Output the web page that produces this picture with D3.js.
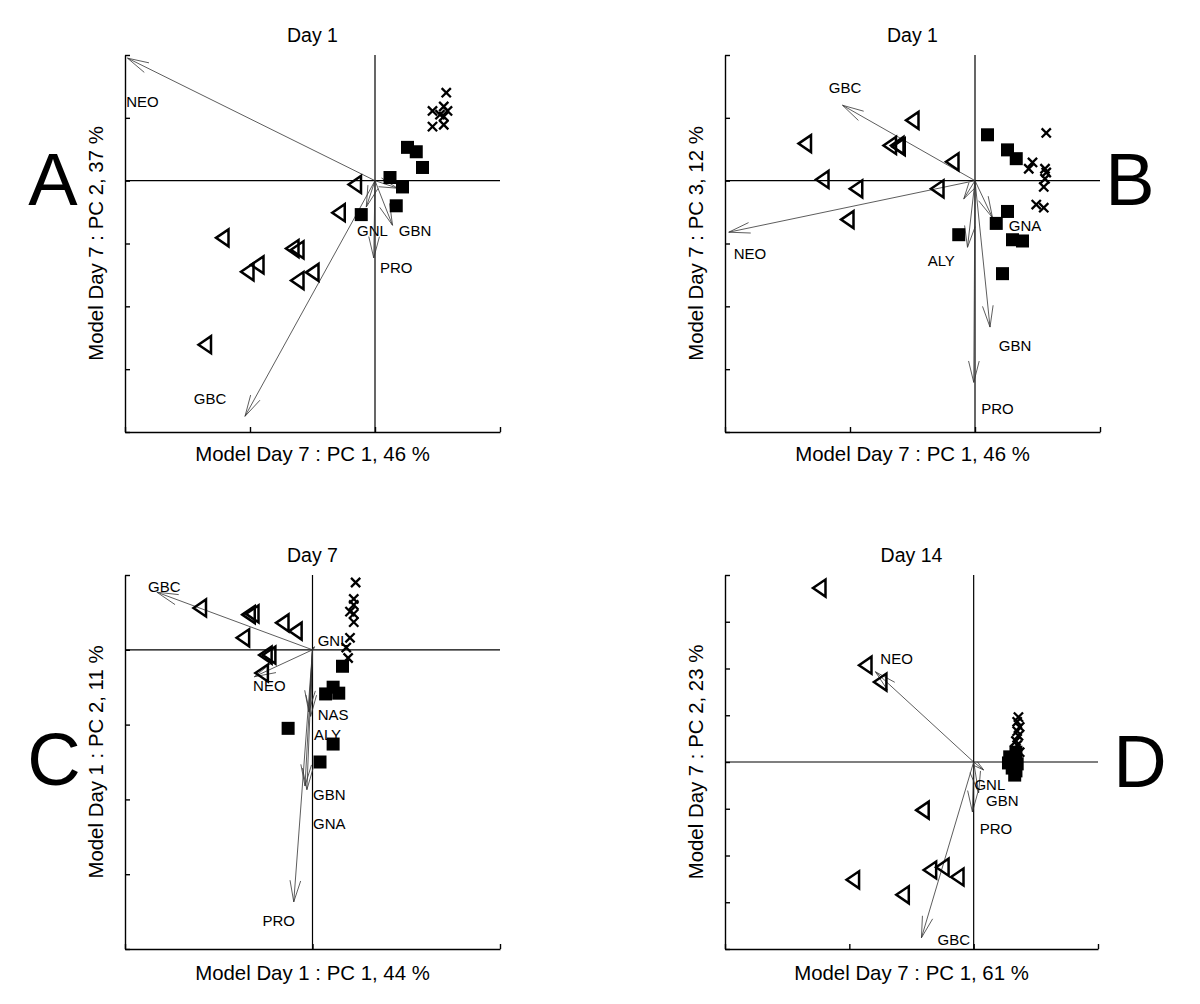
<!DOCTYPE html>
<html>
<head>
<meta charset="utf-8">
<script src="https://cdn.jsdelivr.net/npm/d3@7"></script>
<style>
  html, body { margin: 0; padding: 0; background: #fff; }
  text { font-family: "Liberation Sans", Arial, Helvetica, sans-serif; fill: #000; }
</style>
</head>
<body>
<svg id="chart" width="1200" height="1004"></svg>
<script>
// ---------------- DATA ----------------
const panelLetters = ["A", "B", "C", "D"];
const panelTitles = ["Day 1", "Day 1", "Day 7", "Day 14"];
const xAxisLabels = ["Model Day 7 : PC 1, 46 %", "Model Day 7 : PC 1, 46 %", "Model Day 1 : PC 1, 44 %", "Model Day 7 : PC 1, 61 %"];
const yAxisLabels = ["Model Day 7 : PC 2, 37 %", "Model Day 7 : PC 3, 12 %", "Model Day 1 : PC 2, 11 %", "Model Day 7 : PC 2, 23 %"];
const xTickValues = [[-2, -1, 0, 1], [-2, -1, 0, 1], [-1, 0, 1], [-2, -1, 0, 1]];
const yTickValues = [[-4, -3, -2, -1, 0, 1, 2], [-4, -3, -2, -1, 0, 1, 2], [-4, -3, -2, -1, 0, 1], [-4, -3, -2, -1, 0, 1, 2, 3, 4]];

// Panel A scores
const trianglesA = [[-0.16,-0.06],[-0.29,-0.51],[-1.22,-0.91],[-0.66,-1.08],[-0.62,-1.10],[-0.94,-1.34],[-1.02,-1.45],[-0.50,-1.46],[-0.62,-1.59],[-1.36,-2.61]];
const squaresA = [[0.26,0.53],[0.33,0.46],[0.38,0.21],[0.12,0.05],[0.22,-0.10],[0.17,-0.40],[-0.11,-0.54]];
const crossesA = [[0.57,1.40],[0.46,1.11],[0.55,1.18],[0.58,1.11],[0.52,1.05],[0.55,1.02],[0.46,0.86],[0.55,0.89]];
// loadings: name, tip x, tip y, label x, label y
const loadingsA = [
  ["NEO", -1.98, 1.95, -1.86, 1.26],
  ["GBC", -1.04, -3.75, -1.32, -3.47],
  ["GNL", -0.07, -0.42, -0.02, -0.80],
  ["GBN", 0.14, -0.71, 0.32, -0.80],
  ["PRO", -0.01, -1.23, 0.17, -1.39],
  ["", 0.18, -0.12, 0, 0]
];

// Panel B scores
const trianglesB = [[-0.50,0.96],[-1.36,0.59],[-0.68,0.56],[-0.62,0.56],[-0.61,0.54],[-0.18,0.30],[-1.22,0.02],[-0.95,-0.13],[-0.30,-0.13],[-1.02,-0.62]];
const squaresB = [[0.10,0.73],[0.26,0.49],[0.33,0.35],[0.26,-0.49],[0.17,-0.68],[0.30,-0.94],[0.38,-0.96],[-0.13,-0.86],[0.22,-1.48]];
const crossesB = [[0.57,0.76],[0.46,0.29],[0.43,0.19],[0.56,0.19],[0.57,0.13],[0.56,0.03],[0.55,-0.10],[0.49,-0.38],[0.55,-0.43]];
const loadingsB = [
  ["GBC", -1.06, 1.20, -1.04, 1.48],
  ["NEO", -1.97, -0.82, -1.80, -1.16],
  ["GNA", 0.14, -0.59, 0.40, -0.71],
  ["ALY", -0.06, -1.06, -0.27, -1.27],
  ["", -0.09, -0.29, 0, 0],
  ["GBN", 0.12, -2.33, 0.32, -2.62],
  ["PRO", -0.01, -3.21, 0.18, -3.63]
];

// Panel C scores
const trianglesC = [[-0.60,0.56],[-0.34,0.47],[-0.32,0.48],[-0.16,0.36],[-0.09,0.25],[-0.37,0.16],[-0.25,-0.07],[-0.23,-0.07],[-0.27,-0.31]];
const squaresC = [[0.16,-0.22],[0.11,-0.50],[0.07,-0.59],[0.14,-0.58],[-0.13,-1.05],[0.11,-1.26],[0.04,-1.50]];
const crossesC = [[0.23,0.90],[0.22,0.68],[0.22,0.60],[0.20,0.51],[0.22,0.48],[0.22,0.37],[0.20,0.16],[0.18,0.03],[0.19,-0.11]];
const loadingsC = [
  ["GBC", -0.83, 0.77, -0.79, 0.85],
  ["NEO", -0.31, -0.36, -0.23, -0.48],
  ["GNL", 0.01, 0.04, 0.11, 0.12],
  ["NAS", -0.01, -0.89, 0.11, -0.87],
  ["ALY", -0.02, -0.83, 0.08, -1.14],
  ["GBN", -0.03, -1.87, 0.09, -1.93],
  ["GNA", -0.04, -1.82, 0.09, -2.33],
  ["PRO", -0.10, -3.37, -0.18, -3.62]
];

// Panel D scores
const trianglesD = [[-1.24,3.72],[-0.87,2.07],[-0.75,1.71],[-0.41,-1.03],[-0.97,-2.52],[-0.35,-2.31],[-0.25,-2.25],[-0.13,-2.46],[-0.57,-2.84]];
const squaresD = [[0.29,0.11],[0.34,0.21],[0.31,0.00],[0.35,-0.04],[0.31,-0.13],[0.34,-0.19],[0.33,-0.28],[0.28,-0.02]];
const crossesD = [[0.36,0.96],[0.35,0.86],[0.37,0.75],[0.35,0.66],[0.36,0.56],[0.34,0.45],[0.35,0.36],[0.33,0.26],[0.37,0.21]];
const loadingsD = [
  ["NEO", -0.79, 1.93, -0.62, 2.21],
  ["GBC", -0.42, -3.76, -0.16, -3.80],
  ["GNL", 0.04, -0.66, 0.13, -0.49],
  ["GBN", 0.08, -0.17, 0.23, -0.83],
  ["PRO", -0.01, -1.07, 0.18, -1.42]
];

const triangles = [trianglesA, trianglesB, trianglesC, trianglesD];
const squares = [squaresA, squaresB, squaresC, squaresD];
const crosses = [crossesA, crossesB, crossesC, crossesD];
const loadings = [loadingsA, loadingsB, loadingsC, loadingsD];

// ---------------- LAYOUT ----------------
const layout = [
  { left: 125, right: 500,  top: 55,  bottom: 432, xDom: [-2, 1], yDom: [-4, 2], lx: 53,   ly: 205, ylabX: 103, xlabY: 461, titleY: 42 },
  { left: 725, right: 1100, top: 55,  bottom: 432, xDom: [-2, 1], yDom: [-4, 2], lx: 1130, ly: 205, ylabX: 703, xlabY: 461, titleY: 42 },
  { left: 125, right: 500,  top: 575, bottom: 949, xDom: [-1, 1], yDom: [-4, 1], lx: 54,   ly: 785, ylabX: 103, xlabY: 980, titleY: 562 },
  { left: 725, right: 1098, top: 575, bottom: 949, xDom: [-2, 1], yDom: [-4, 4], lx: 1140, ly: 787, ylabX: 703, xlabY: 980, titleY: 562 }
];

const svg = d3.select("#chart");
svg.append("rect").attr("width", 1200).attr("height", 1004).attr("fill", "#fff");

layout.forEach((L, i) => {
  const x = d3.scaleLinear().domain(L.xDom).range([L.left, L.right]);
  const y = d3.scaleLinear().domain(L.yDom).range([L.bottom, L.top]);
  const g = svg.append("g");

  // axes (ticks pointing inward)
  g.append("g").attr("transform", `translate(0,${L.bottom})`)
    .call(d3.axisBottom(x).tickValues(xTickValues[i]).tickSize(-5).tickSizeOuter(0).tickFormat(""))
    .call(a => a.selectAll("path,line").attr("stroke", "#000").attr("stroke-width", 1.4));
  g.append("g").attr("transform", `translate(${L.left},0)`)
    .call(d3.axisLeft(y).tickValues(yTickValues[i]).tickSize(-5).tickSizeOuter(0).tickFormat(""))
    .call(a => a.selectAll("path,line").attr("stroke", "#000").attr("stroke-width", 1.4));

  // zero lines
  g.append("line").attr("x1", x(0)).attr("x2", x(0)).attr("y1", L.top).attr("y2", L.bottom)
    .attr("stroke", "#000").attr("stroke-width", 1.2);
  g.append("line").attr("x1", L.left).attr("x2", L.right).attr("y1", y(0)).attr("y2", y(0))
    .attr("stroke", "#000").attr("stroke-width", 1.2);

  // loading arrows
  const ox = x(0), oy = y(0);
  loadings[i].forEach(d => {
    const tx = x(d[1]), ty = y(d[2]);
    g.append("line").attr("x1", ox).attr("y1", oy).attr("x2", tx).attr("y2", ty)
      .attr("stroke", "#333").attr("stroke-width", 0.8);
    const len = Math.hypot(ox - tx, oy - ty);
    const hl = Math.min(22, len * 0.8);
    const ang = Math.atan2(oy - ty, ox - tx);
    const a = 14 * Math.PI / 180;
    [ang - a, ang + a].forEach(t => {
      g.append("line").attr("x1", tx).attr("y1", ty)
        .attr("x2", tx + hl * Math.cos(t)).attr("y2", ty + hl * Math.sin(t))
        .attr("stroke", "#333").attr("stroke-width", 0.8);
    });
    if (d[0]) {
      g.append("text").attr("x", x(d[3])).attr("y", y(d[4])).attr("dy", "0.36em")
        .attr("text-anchor", "middle").attr("font-size", 15).text(d[0]);
    }
  });

  // triangles (open, left-pointing)
  g.selectAll(".tri").data(triangles[i]).enter().append("path")
    .attr("d", d => {
      const cx = x(d[0]), cy = y(d[1]);
      return `M${cx - 6.5},${cy} L${cx + 6},${cy - 8.5} L${cx + 6},${cy + 8.5} Z`;
    })
    .attr("fill", "none").attr("stroke", "#000").attr("stroke-width", 2.5).attr("stroke-linejoin", "miter");

  // squares (filled)
  g.selectAll(".sq").data(squares[i]).enter().append("rect")
    .attr("x", d => x(d[0]) - 6.5).attr("y", d => y(d[1]) - 6.5)
    .attr("width", 13).attr("height", 13).attr("fill", "#000");

  // crosses
  g.selectAll(".cr").data(crosses[i]).enter().append("path")
    .attr("d", d => {
      const cx = x(d[0]), cy = y(d[1]), s = 4.6;
      return `M${cx - s},${cy - s} L${cx + s},${cy + s} M${cx - s},${cy + s} L${cx + s},${cy - s}`;
    })
    .attr("stroke", "#000").attr("stroke-width", 2.3).attr("fill", "none");

  // title
  g.append("text").attr("x", (L.left + L.right) / 2).attr("y", L.titleY)
    .attr("text-anchor", "middle").attr("font-size", 19.5).text(panelTitles[i]);
  // x label
  g.append("text").attr("x", (L.left + L.right) / 2).attr("y", L.xlabY)
    .attr("text-anchor", "middle").attr("font-size", 20.4).text(xAxisLabels[i]);
  // y label
  g.append("text").attr("transform", `translate(${L.ylabX},${(L.top + L.bottom) / 2}) rotate(-90)`)
    .attr("text-anchor", "middle").attr("font-size", 20.4).text(yAxisLabels[i]);
  // panel letter
  g.append("text").attr("x", L.lx).attr("y", L.ly)
    .attr("text-anchor", "middle").attr("font-size", 74).text(panelLetters[i]);
});
</script>
</body>
</html>
